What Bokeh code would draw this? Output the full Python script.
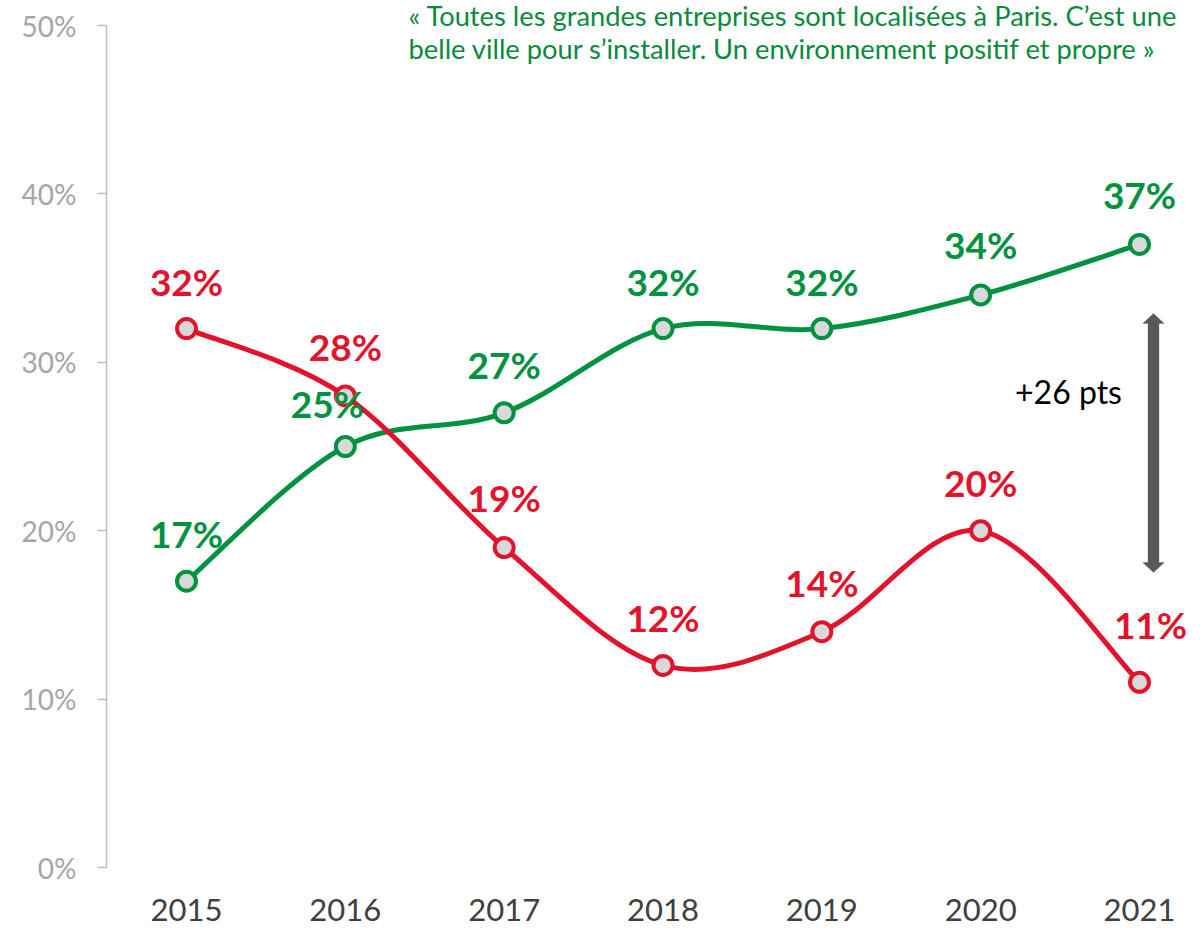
import numpy as np
from bokeh.plotting import figure
from bokeh.models import Range1d, FixedTicker, PrintfTickFormatter, ColumnDataSource, Label, PolyAnnotation
from bokeh.embed import file_html
from bokeh.resources import INLINE
from bokeh.core.properties import value

# ---------------- data ----------------
years = [2015, 2016, 2017, 2018, 2019, 2020, 2021]
green_values = [17, 25, 27, 32, 32, 34, 37]
red_values = [32, 28, 19, 12, 14, 20, 11]
y_ticks = [0, 10, 20, 30, 40, 50]
quote_lines = [
    "« Toutes les grandes entreprises sont localisées à Paris. C’est une",
    "belle ville pour s’installer. Un environnement positif et propre »",
]
gap_label = "+26 pts"

# ---------------- style ----------------
GREEN = "#00923F"
RED = "#E2142D"
MARKER_FILL = "#D9D9D9"
FONT = "Lato"

W, H = 1204, 930
LEFT, BOTTOM = 106, 63
ZERO_Y = H - BOTTOM            # page y of 0 %
PX_PER_PCT = (867 - 25) / 50.0
PX_PER_YEAR = (1139 - 186) / 6.0
FRAME_W = W - LEFT
X0 = 2015 - (186 - LEFT) / PX_PER_YEAR
X1 = X0 + FRAME_W / PX_PER_YEAR
Y1 = ZERO_Y / PX_PER_PCT


def px_x(page_x):
    return X0 + (page_x - LEFT) / PX_PER_YEAR


def px_y(page_y):
    return (ZERO_Y - page_y) / PX_PER_PCT


def bezier_segments(xs, ys):
    xs = np.asarray(xs, float)
    ys = np.asarray(ys, float)
    xp = np.concatenate([[xs[0]], xs, [xs[-1]]])
    yp = np.concatenate([[ys[0]], ys, [ys[-1]]])
    d = dict(x0=[], y0=[], x1=[], y1=[], cx0=[], cy0=[], cx1=[], cy1=[])
    for i in range(len(xs) - 1):
        p0 = np.array([xp[i], yp[i]])
        p1 = np.array([xp[i + 1], yp[i + 1]])
        p2 = np.array([xp[i + 2], yp[i + 2]])
        p3 = np.array([xp[i + 3], yp[i + 3]])
        c1 = p1 + (p2 - p0) / 6.0
        c2 = p2 - (p3 - p1) / 6.0
        d["x0"].append(p1[0]); d["y0"].append(p1[1])
        d["x1"].append(p2[0]); d["y1"].append(p2[1])
        d["cx0"].append(c1[0]); d["cy0"].append(c1[1])
        d["cx1"].append(c2[0]); d["cy1"].append(c2[1])
    return ColumnDataSource(d)


p = figure(width=W, height=H, output_backend="svg", toolbar_location=None,
           x_range=Range1d(X0, X1), y_range=Range1d(0, Y1),
           min_border_left=LEFT, min_border_right=0,
           min_border_top=0, min_border_bottom=BOTTOM)
p.outline_line_color = None
p.background_fill_color = "white"
p.border_fill_color = "white"
p.xgrid.visible = False
p.ygrid.visible = False

# y axis
p.yaxis.bounds = (0, 50)
p.yaxis.ticker = FixedTicker(ticks=y_ticks)
p.yaxis.formatter = PrintfTickFormatter(format="%d%%")
p.yaxis.axis_line_color = "#BFBFBF"
p.yaxis.axis_line_width = 1.5
p.yaxis.major_tick_line_color = "#BFBFBF"
p.yaxis.major_tick_line_width = 1.5
p.yaxis.major_tick_out = 9
p.yaxis.major_tick_in = 0
p.yaxis.minor_tick_line_color = None
p.yaxis.major_label_standoff = 21
p.yaxis.major_label_text_font = FONT
p.yaxis.major_label_text_font_size = "28px"
p.yaxis.major_label_text_color = "#A6A6A6"

# x axis
p.xaxis.ticker = FixedTicker(ticks=years)
p.xaxis.formatter = PrintfTickFormatter(format="%d")
p.xaxis.axis_line_color = None
p.xaxis.major_tick_line_color = None
p.xaxis.minor_tick_line_color = None
p.xaxis.major_tick_out = 0
p.xaxis.major_tick_in = 0
p.xaxis.major_label_standoff = 31
p.xaxis.major_label_text_font = FONT
p.xaxis.major_label_text_font_size = "31px"
p.xaxis.major_label_text_color = "#404040"

# smooth lines
p.bezier(x0="x0", y0="y0", x1="x1", y1="y1", cx0="cx0", cy0="cy0", cx1="cx1", cy1="cy1",
         source=bezier_segments(years, green_values), line_color=GREEN, line_width=5)
p.bezier(x0="x0", y0="y0", x1="x1", y1="y1", cx0="cx0", cy0="cy0", cx1="cx1", cy1="cy1",
         source=bezier_segments(years, red_values), line_color=RED, line_width=5)

p.scatter(years, green_values, size=19, fill_color=MARKER_FILL, line_color=GREEN, line_width=4)
p.scatter(years, red_values, size=19, fill_color=MARKER_FILL, line_color=RED, line_width=4)

# data labels (offsets in screen px, measured label-centre minus point)
BASE_FIX = 13.3 - 16.3
green_dx = [0, -18, 0, 0, 0, 0, 0]
green_dy = [-45, -40, -45, -44, -44, -47, -47]
red_dx = [0, 0, 0, 0, 0, 0, 11]
red_dy = [-44, -46, -47, -45, -46, -45, -55]

for vals, dx, dy, col in ((green_values, green_dx, green_dy, GREEN),
                          (red_values, red_dx, red_dy, RED)):
    src = ColumnDataSource(dict(x=years, y=vals, t=[f"{v}%" for v in vals],
                                dx=dx, dy=[d + BASE_FIX for d in dy]))
    p.text(x="x", y="y", text="t", source=src, x_offset="dx", y_offset="dy",
           text_font=value(FONT), text_font_style="bold", text_font_size="37px",
           text_align="center", text_baseline="alphabetic", text_color=col)

# quote
for line, base in zip(quote_lines, (27 - 12, 58 - 10)):
    p.add_layout(Label(x=px_x(408), y=px_y(base), text=line, text_font=FONT,
                       text_font_size="27.3px", text_color="#0A8A3E",
                       text_align="left", text_baseline="alphabetic"))

# double arrow
AX = px_x(1153)
ATOP = px_y(313)
ABOT = px_y(572)
HW = 10.7 / PX_PER_YEAR
SW = 5.5 / PX_PER_YEAR
HL = 10 / PX_PER_PCT
xs = [AX, AX + HW, AX + SW, AX + SW, AX + HW, AX, AX - HW, AX - SW, AX - SW, AX - HW]
ys = [ATOP, ATOP - HL, ATOP - HL, ABOT + HL, ABOT + HL, ABOT, ABOT + HL, ABOT + HL, ATOP - HL, ATOP - HL]
p.add_layout(PolyAnnotation(xs=xs, ys=ys, fill_color="#595959", fill_alpha=1.0,
                            line_color="#595959", line_width=1))

p.add_layout(Label(x=px_x(1068), y=px_y(403 - 12), text=gap_label, text_font=FONT,
                   text_font_size="32px", text_color="black",
                   text_align="center", text_baseline="alphabetic"))

open("out.html", "w").write(file_html(p, INLINE))
